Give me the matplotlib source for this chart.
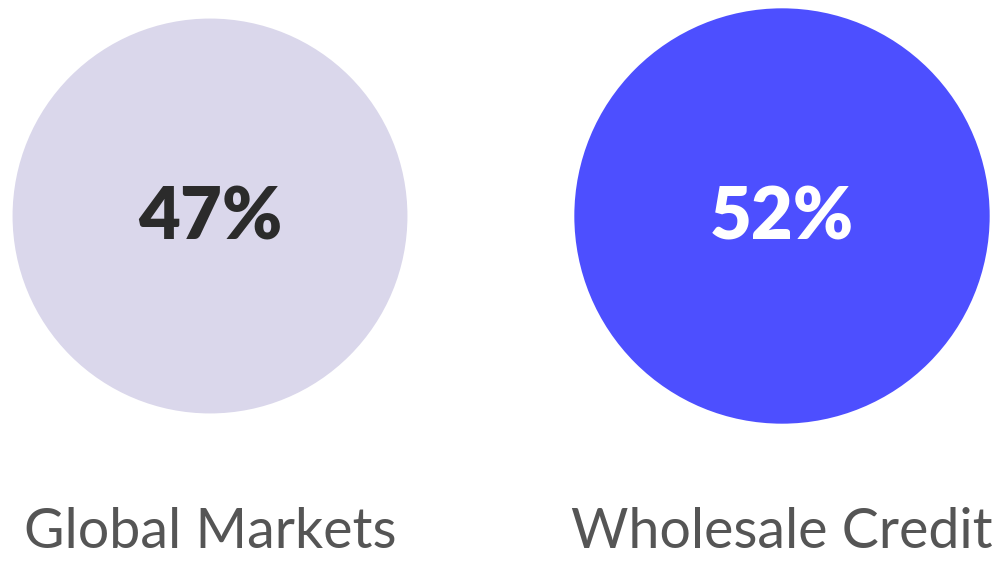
import matplotlib.pyplot as plt
from matplotlib.patches import Circle
import numpy as np

# data
categories = ['Global Markets', 'Wholesale Credit']
values = [47, 52]
colors = ['#DAD7EB', '#4D4FFF']
text_colors = ['#2B2B2B', '#FFFFFF']

fig = plt.figure(figsize=(9.98, 5.63), dpi=100)
ax = fig.add_axes([0, 0, 1, 1])
ax.set_xlim(0, 998)
ax.set_ylim(563, 0)
ax.set_aspect('equal')
ax.axis('off')

# circle area follows the value
k = 28.8
centers_x = [210, 782]
cy = 216
for cx, v, c, tc, cat in zip(centers_x, values, colors, text_colors, categories):
    r = k * np.sqrt(v)
    ax.add_patch(Circle((cx, cy), r, color=c, lw=0))
    ax.text(cx, cy + 2, f'{v}%', ha='center', va='center', fontsize=52,
            fontweight='heavy', color=tc, family='Lato')
    ax.text(cx, 533, cat, ha='center', va='center', fontsize=40,
            color='#555555', family='Lato')

plt.savefig('out.png', dpi=100)
